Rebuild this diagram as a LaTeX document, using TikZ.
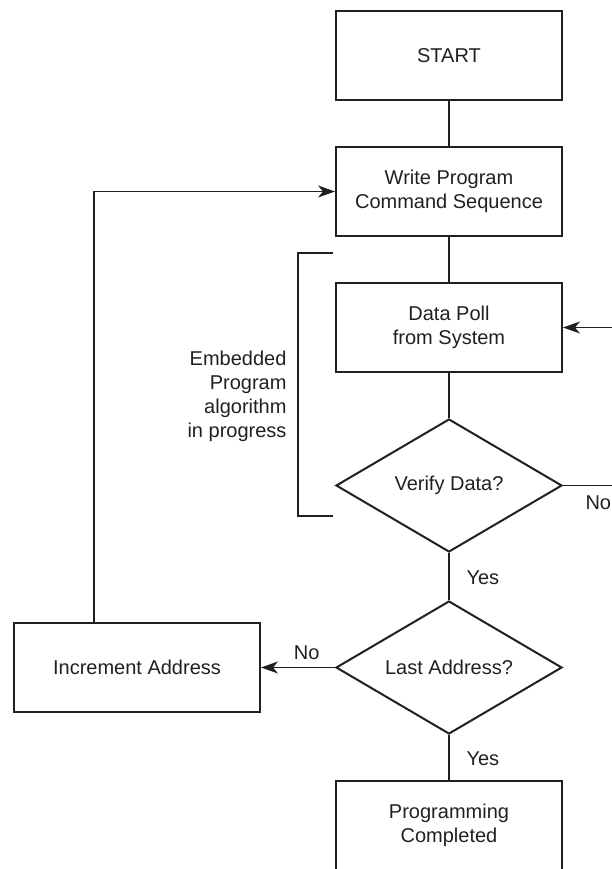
\documentclass[tikz,border=0pt]{standalone}
\usepackage{fontspec}
\setmainfont{Liberation Sans}
\usetikzlibrary{arrows.meta,positioning,shapes.geometric}
\definecolor{ink}{HTML}{231F20}

\begin{document}
\begin{tikzpicture}[x=1pt,y=1pt,
    box/.style={rectangle,draw=ink,line width=2pt,minimum width=226pt,
      minimum height=89pt,inner sep=2pt},
    test/.style={diamond,draw=ink,line width=2pt,minimum width=226pt,
      minimum height=133pt,aspect=1.69,inner sep=0pt},
    line/.style={draw=ink,line width=1.2pt},
    to/.style={line,-{Stealth[length=17pt,width=12pt,inset=5pt]}},
    every node/.style={align=center,text=ink,font=\fontsize{20}{24}\selectfont}]

  \useasboundingbox (0,0) rectangle (612,-869);
  \clip (0,0) rectangle (612,-869);

  \newcommand{\gap}{45pt}
  \node[box] (start) at (449,-55.5) {START};
  \node[box,below=\gap of start] (write) {Write Program\\Command Sequence};
  \node[box,below=\gap of write] (poll) {Data Poll\\from System};
  \node[test,below=\gap of poll] (verify) {Verify Data?};
  \node[test,below=47pt of verify] (last) {Last Address?};
  \node[box,below=\gap of last] (done) {Programming\\Completed};
  \node[box,minimum width=246pt,left=74pt of last] (incr) {Increment Address};

  % labels
  \node[anchor=west] (yes1) at ([xshift=14pt,yshift=-25pt]verify.south) {Yes};
  \node[anchor=west] (yes2) at ([xshift=14pt,yshift=-24pt]last.south) {Yes};
  \node[anchor=west] (no1) at ([xshift=19pt,yshift=-17pt]verify.east) {No};
  \node[anchor=east] (no2) at ([xshift=-12pt,yshift=15pt]last.west) {No};

  % bracket
  \coordinate (brtop) at (333,-253);
  \coordinate (brbot) at (333,-516);
  \draw[ink,line width=1.6pt] (brtop) -- ++(-35,0) |- (brbot);
  \node[anchor=east,align=right] (emb) at (290,-396)
    {Embedded\\Program\\algorithm\\in progress};

  \path[line] (start) -- (write);
  \path[line] (write) -- (poll);
  \path[line] (poll) -- (verify);
  \path[line] (verify) -- (last);
  \path[line] (last) -- (done);
  \draw[to] (last.west) -- (incr.east);
  \draw[to] ([xshift=-43pt]incr.north) |- (write.west);
  \draw[to] (verify.east) -- ++(90,0) |- (poll.east);

\end{tikzpicture}
\end{document}
